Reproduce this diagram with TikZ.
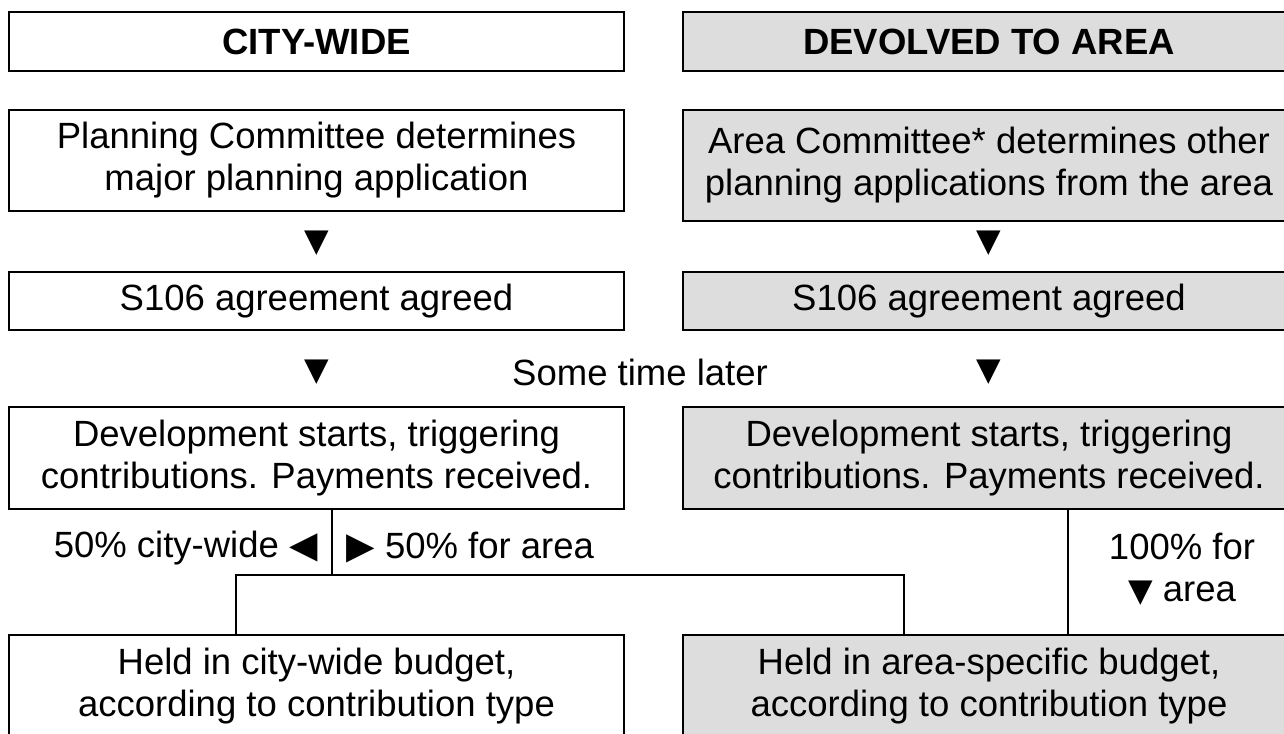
\documentclass[tikz,border=0pt]{standalone}
\usepackage{fontspec}
\setmainfont{Liberation Sans}
\newfontfamily\symfont{DejaVu Sans}
\definecolor{boxgrey}{RGB}{221,221,221}
\begin{document}
\begin{tikzpicture}[x=0.5pt,y=-0.5pt,
  txt/.style={font=\fontsize{18.25pt}{21pt}\selectfont, align=center, inner sep=0pt},
  cbox/.style={txt, draw=black, line width=1pt, fill=white, minimum width=307.5pt},
  abox/.style={txt, draw=black, line width=1pt, fill=boxgrey, minimum width=306pt},
  ttl/.style={font=\fontsize{18.25pt}{21pt}\selectfont\bfseries},
  tri/.style={txt, font=\fontsize{16pt}{21pt}\selectfont\symfont},
  link/.style={line width=1pt}]
\newcommand{\bigtri}[1]{{\symfont\fontsize{18.5pt}{21pt}\selectfont #1}}
\useasboundingbox (0,0) rectangle (1284,733);
\clip (0,0) rectangle (1284,733);
% titles
\node[cbox, ttl, minimum height=29.5pt] (t1) at (316.5,41.5) {CITY-WIDE};
\node[abox, ttl, minimum height=29.5pt] (t2) at (989,41.5) {DEVOLVED TO AREA};
% row 2
\node[cbox, minimum height=50.5pt] (p1) at (316.5,160.5) {Planning Committee determines\\major planning application};
\node[abox, minimum height=55.5pt] (p2) at (989,165.5) {Area Committee* determines other\\planning applications from the area};
% arrows
\node[tri] (d1) at (316.5,243) {▼};
\node[tri] (d2) at (989,243) {▼};
% row 3
\node[cbox, minimum height=29pt] (s1) at (316.5,301) {S106 agreement agreed};
\node[abox, minimum height=29pt] (s2) at (989,301) {S106 agreement agreed};
% arrows and middle label
\node[tri] (d3) at (316.5,372) {▼};
\node[tri] (d4) at (989,372) {▼};
\node[txt] (later) at (640,372) {Some time later};
% row 4
\node[cbox, minimum height=51pt] (v1) at (316.5,458) {Development starts, triggering\\contributions. Payments received.};
\node[abox, minimum height=51pt] (v2) at (989,458) {Development starts, triggering\\contributions. Payments received.};
% split labels
\node[txt, anchor=east] (l1) at (318,548) {50\% city-wide \bigtri{◀}};
\node[txt, anchor=west] (l2) at (346,548) {\bigtri{▶} 50\% for area};
\node[txt] (l3) at (1182,569) {100\% for\\{\symfont\fontsize{16pt}{21pt}\selectfont ▼} area};
% row 5
\node[cbox, minimum height=51pt] (h1) at (316.5,686) {Held in city-wide budget,\\according to contribution type};
\node[abox, minimum height=51pt] (h2) at (989,686) {Held in area-specific budget,\\according to contribution type};
% connectors
\coordinate (cx) at (332,575);
\coordinate (hl) at (236,575);
\coordinate (hr) at (904,575);
\coordinate (rx) at (1068,0);
\draw[link] (v1.south -| cx) -- (cx);
\draw[link] (h1.north -| hl) -- (hl) -- (hr) -- (h2.north -| hr);
\draw[link] (v2.south -| rx) -- (h2.north -| rx);
\end{tikzpicture}
\end{document}
